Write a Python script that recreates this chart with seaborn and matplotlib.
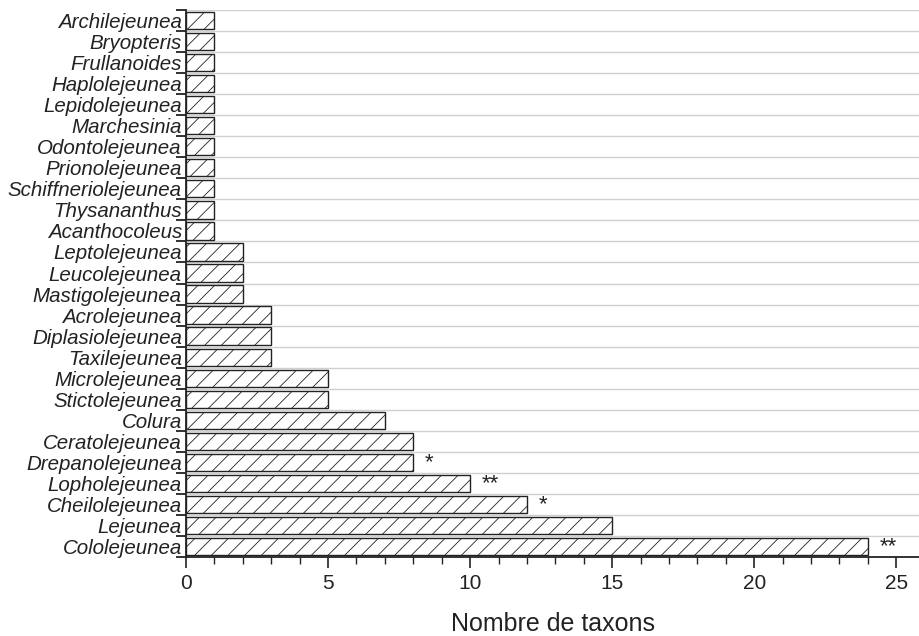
import matplotlib
matplotlib.use("Agg")
import matplotlib.pyplot as plt
import seaborn as sns
import pandas as pd
import numpy as np
from matplotlib.ticker import MultipleLocator, FixedLocator

genera = ["Archilejeunea", "Bryopteris", "Frullanoides", "Haplolejeunea", "Lepidolejeunea",
          "Marchesinia", "Odontolejeunea", "Prionolejeunea", "Schiffneriolejeunea", "Thysananthus",
          "Acanthocoleus", "Leptolejeunea", "Leucolejeunea", "Mastigolejeunea", "Acrolejeunea",
          "Diplasiolejeunea", "Taxilejeunea", "Microlejeunea", "Stictolejeunea", "Colura",
          "Ceratolejeunea", "Drepanolejeunea", "Lopholejeunea", "Cheilolejeunea", "Lejeunea",
          "Cololejeunea"]
taxa = [1, 1, 1, 1, 1, 1, 1, 1, 1, 1, 1, 2, 2, 2, 3, 3, 3, 5, 5, 7, 8, 8, 10, 12, 15, 24]
marks = {"Cololejeunea": "**", "Drepanolejeunea": "*", "Lopholejeunea": "**", "Cheilolejeunea": "*"}

df = pd.DataFrame({"genre": genera, "n": taxa})

sns.set_style("white")
plt.rcParams['font.family'] = ['Liberation Sans', 'DejaVu Sans']
plt.rcParams['hatch.linewidth'] = 0.6

fig = plt.figure(figsize=(9.19, 6.36), dpi=100)
ax = fig.add_axes([0.2024, 0.1242, 0.7976, 0.8600])

sns.barplot(data=df, x="n", y="genre", orient="h", color="white", edgecolor="#222222",
            linewidth=1.0, width=0.82, ax=ax, zorder=3)
for p in ax.patches:
    p.set_hatch("//")

ax.set_xlim(0, 25.8)
ax.set_ylim(len(genera) - 0.5, -0.5)

ax.xaxis.set_major_locator(MultipleLocator(5))
ax.xaxis.set_minor_locator(MultipleLocator(1))
ax.tick_params(axis="x", which="both", bottom=True)
ax.tick_params(axis="x", which="major", direction="out", length=8, width=1.2, labelsize=15, pad=4,
               colors="#222222")
ax.tick_params(axis="x", which="minor", direction="out", length=5, width=1.0, colors="#222222")

bounds = np.arange(-0.5, len(genera), 1.0)
ax.yaxis.set_minor_locator(FixedLocator(bounds))
ax.tick_params(axis="y", which="both", left=True)
ax.tick_params(axis="y", which="major", length=0, pad=3)
ax.tick_params(axis="y", which="minor", direction="out", length=7, width=1.3, colors="#222222")
for lab in ax.get_yticklabels():
    lab.set_fontstyle("italic")
    lab.set_fontsize(14.8)
    lab.set_color("#222222")

ax.grid(False)
ax.yaxis.grid(True, which="minor", color="#d0d0d0", linewidth=1.0, zorder=0)

for s in ["top", "right"]:
    ax.spines[s].set_visible(False)
for s in ["left", "bottom"]:
    ax.spines[s].set_color("#222222")
    ax.spines[s].set_linewidth(1.3)

for i, (g, v) in enumerate(zip(genera, taxa)):
    if g in marks:
        ax.text(v + 0.4, i, marks[g], va="center", ha="left", fontsize=16, color="#222222")

ax.set_ylabel("")
ax.set_xlabel("Nombre de taxons", fontsize=18, color="#222222", labelpad=14)

fig.savefig("out.png", dpi=100)
